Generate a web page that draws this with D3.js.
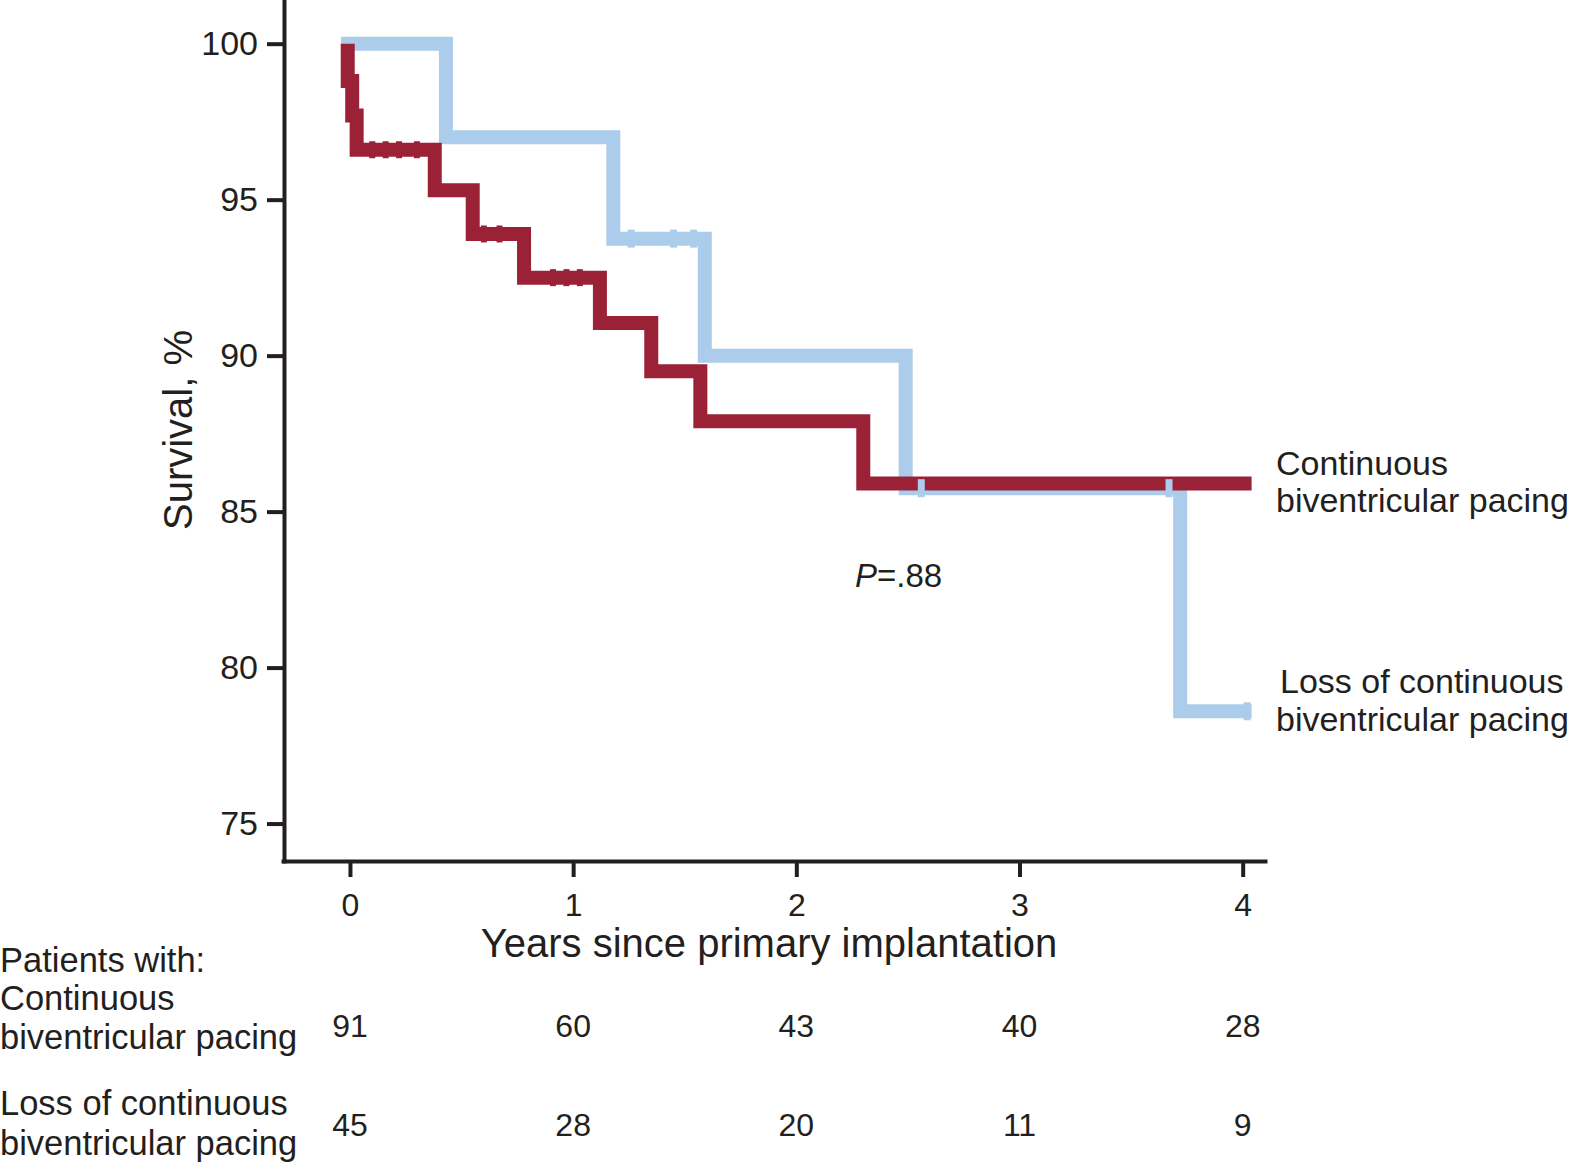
<!DOCTYPE html>
<html>
<head>
<meta charset="utf-8">
<script src="https://cdn.jsdelivr.net/npm/d3@7"></script>
<style>
  body { margin: 0; background: #fff; }
  text { font-family: "Liberation Sans", Arial, sans-serif; fill: #231f20; }
</style>
</head>
<body>
<div id="chart"></div>
<script>
// data ---------------------------------------------------------------------
const yearTicks = [0, 1, 2, 3, 4];
const survivalTicks = [75, 80, 85, 90, 95, 100];

// time (years) at which survival changes to the matching value
const contTimes = [-0.01, -0.01, 0.01, 0.03, 0.38, 0.55, 0.78, 1.12, 1.35, 1.57, 2.30];
const contSurv  = [100, 98.8, 97.7, 96.6, 95.3, 93.9, 92.5, 91.05, 89.5, 87.9, 85.9];
const contCensor = [0.10, 0.16, 0.22, 0.30, 0.60, 0.67, 0.91, 0.97, 1.03];

const lossTimes = [-0.04, 0.43, 1.18, 1.59, 2.49, 3.72];
const lossSurv  = [100, 97.0, 93.75, 90.0, 85.75, 78.6];
const lossCensor = [1.26, 1.45, 1.54, 2.56, 3.67, 4.02];

const curveEnd = 4.04;

const riskCont = [91, 60, 43, 40, 28];
const riskLoss = [45, 28, 20, 11, 9];

// 1- set up -----------------------------------------------------------------
const svgWidth = 1577;
const svgHeight = 1167;
const red = "#9b2236";
const blue = "#abcdeb";
const ink = "#231f20";

const svg = d3.select("#chart")
  .append("svg")
  .attr("width", svgWidth)
  .attr("height", svgHeight);

const x = d3.scaleLinear().domain([-0.3, 4.1]).range([283, 1265]);
const y = d3.scaleLinear().domain([73.8, 101.4]).range([861, 0]);

// 2- axes -------------------------------------------------------------------
const yAxis = svg.append("g")
  .attr("transform", "translate(284,0)")
  .call(d3.axisLeft(y).tickValues(survivalTicks).tickSize(17).tickPadding(9).tickSizeOuter(0));

const xAxis = svg.append("g")
  .attr("transform", "translate(0,861)")
  .call(d3.axisBottom(x).tickValues(yearTicks).tickFormat(d3.format("d"))
    .tickSize(16).tickPadding(16).tickSizeOuter(0));

[xAxis, yAxis].forEach(g => {
  g.select(".domain").attr("stroke", ink).attr("stroke-width", 4).attr("stroke-linecap", "square");
  g.selectAll(".tick line").attr("stroke", ink).attr("stroke-width", 4);
  g.selectAll(".tick text").attr("fill", ink).attr("font-size", 34)
    .attr("font-family", "Liberation Sans, Arial, sans-serif");
});
xAxis.selectAll(".tick text").attr("font-size", 32);

// 3- survival curves --------------------------------------------------------
function stepPath(times, values) {
  let lastX = x(times[0]);
  let p = `M${lastX},${y(values[0])}`;
  for (let i = 1; i < times.length; i++) {
    const xi = x(times[i]);
    if (xi !== lastX) p += `H${xi}`;
    p += `V${y(values[i])}`;
    lastX = xi;
  }
  return p + `H${x(curveEnd)}`;
}

function survAt(times, values, t) {
  let v = values[0];
  for (let i = 0; i < times.length; i++) if (times[i] <= t) v = values[i];
  return v;
}

svg.append("path")
  .attr("d", stepPath(lossTimes, lossSurv))
  .attr("fill", "none")
  .attr("stroke", blue)
  .attr("stroke-width", 14);

svg.append("path")
  .attr("d", stepPath(contTimes, contSurv))
  .attr("fill", "none")
  .attr("stroke", red)
  .attr("stroke-width", 14);

// censor marks, barely wider than the line
svg.append("g").selectAll("rect")
  .data(contCensor)
  .enter()
  .append("rect")
  .attr("x", d => x(d) - 3)
  .attr("y", d => y(survAt(contTimes, contSurv, d)) - 8.5)
  .attr("width", 6)
  .attr("height", 17)
  .attr("fill", red);

svg.append("g").selectAll("rect")
  .data(lossCensor)
  .enter()
  .append("rect")
  .attr("x", d => x(d) - 3.5)
  .attr("y", d => y(survAt(lossTimes, lossSurv, d)) - 9)
  .attr("width", 7)
  .attr("height", 18)
  .attr("fill", blue);

// 4- labels -----------------------------------------------------------------
svg.append("text")
  .attr("transform", "translate(192,430) rotate(-90)")
  .attr("text-anchor", "middle")
  .attr("font-size", 40)
  .text("Survival, %");

svg.append("text")
  .attr("x", 769)
  .attr("y", 957)
  .attr("text-anchor", "middle")
  .attr("font-size", 40)
  .text("Years since primary implantation");

const pText = svg.append("text")
  .attr("x", 855)
  .attr("y", 587)
  .attr("font-size", 33);
pText.append("tspan").attr("font-style", "italic").text("P");
pText.append("tspan").text("=.88");

// curve labels on the right
const legendLines = [
  { text: "Continuous", x: 1276, y: 475 },
  { text: "biventricular pacing", x: 1276, y: 512 },
  { text: "Loss of continuous", x: 1280, y: 693 },
  { text: "biventricular pacing", x: 1276, y: 731 }
];
svg.append("g").selectAll("text")
  .data(legendLines)
  .enter()
  .append("text")
  .attr("x", d => d.x)
  .attr("y", d => d.y)
  .attr("font-size", 34)
  .text(d => d.text);

// 5- number at risk ---------------------------------------------------------
const riskLabels = [
  { text: "Patients with:", y: 972 },
  { text: "Continuous", y: 1010 },
  { text: "biventricular pacing", y: 1049 },
  { text: "Loss of continuous", y: 1115 },
  { text: "biventricular pacing", y: 1155 }
];
svg.append("g").selectAll("text")
  .data(riskLabels)
  .enter()
  .append("text")
  .attr("x", 0)
  .attr("y", d => d.y)
  .attr("font-size", 34.5)
  .text(d => d.text);

svg.append("g").selectAll("text")
  .data(riskCont)
  .enter()
  .append("text")
  .attr("x", (d, i) => x(yearTicks[i]))
  .attr("y", 1037)
  .attr("text-anchor", "middle")
  .attr("font-size", 32)
  .text(d => d);

svg.append("g").selectAll("text")
  .data(riskLoss)
  .enter()
  .append("text")
  .attr("x", (d, i) => x(yearTicks[i]))
  .attr("y", 1136)
  .attr("text-anchor", "middle")
  .attr("font-size", 32)
  .text(d => d);
</script>
</body>
</html>
